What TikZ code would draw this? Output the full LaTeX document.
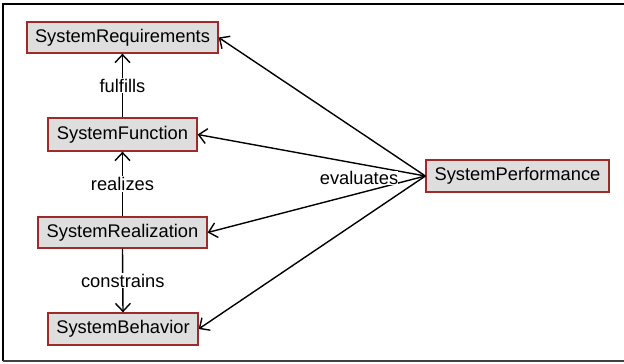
\documentclass[tikz,border=0pt]{standalone}
\usepackage{fontspec}
\setmainfont{Liberation Sans}
\usetikzlibrary{arrows.meta}
\definecolor{boxred}{HTML}{9E2A2A}
\definecolor{boxfill}{HTML}{DEDEDE}
\begin{document}
\begin{tikzpicture}[x=1pt,y=-1pt,
  blk/.style={draw=boxred,fill=boxfill,line width=1.3pt,inner sep=0pt,font=\fontsize{18.3}{20}\selectfont},
  lbl/.style={fill=white,inner sep=1pt,font=\fontsize{18.3}{20}\selectfont},
  conn/.style={line width=1.4pt,-{Straight Barb[length=8pt,width=15pt,line width=1.4pt]}},
  plain/.style={line width=1.4pt}]
\useasboundingbox (0,0) rectangle (624,364);
\draw[line width=1.3pt] (3,361) -- (3,4) -- (626,4);
\draw[line width=1.8pt,black!75] (3,361) -- (626,361);
\node[blk,minimum width=191pt,minimum height=31pt] (req) at (122.5,37.5) {SystemRequirements};
\node[blk,minimum width=149pt,minimum height=33pt] (fun) at (122.5,134.5) {SystemFunction};
\node[blk,minimum width=169pt,minimum height=31pt] (rea) at (122.5,232.5) {SystemRealization};
\node[blk,minimum width=150pt,minimum height=32pt] (beh) at (123,329) {SystemBehavior};
\node[blk,minimum width=183pt,minimum height=32pt] (per) at (517.5,176) {SystemPerformance};
\draw[conn] (fun.north) -- node[lbl] {fulfills} (req.south);
\draw[conn] (rea.north) -- node[lbl] {realizes} (fun.south);
\draw[conn] (rea.south) -- node[lbl] {constrains} (beh.north);
\draw[conn] (per.west) -- (req.east);
\draw[conn] (per.west) -- (fun.east);
\draw[conn] (per.west) -- (rea.east);
\draw[conn] (per.west) -- (beh.east);
\node[lbl,inner sep=0pt] (ev) at (359,178) {evaluates};
\end{tikzpicture}
\end{document}
